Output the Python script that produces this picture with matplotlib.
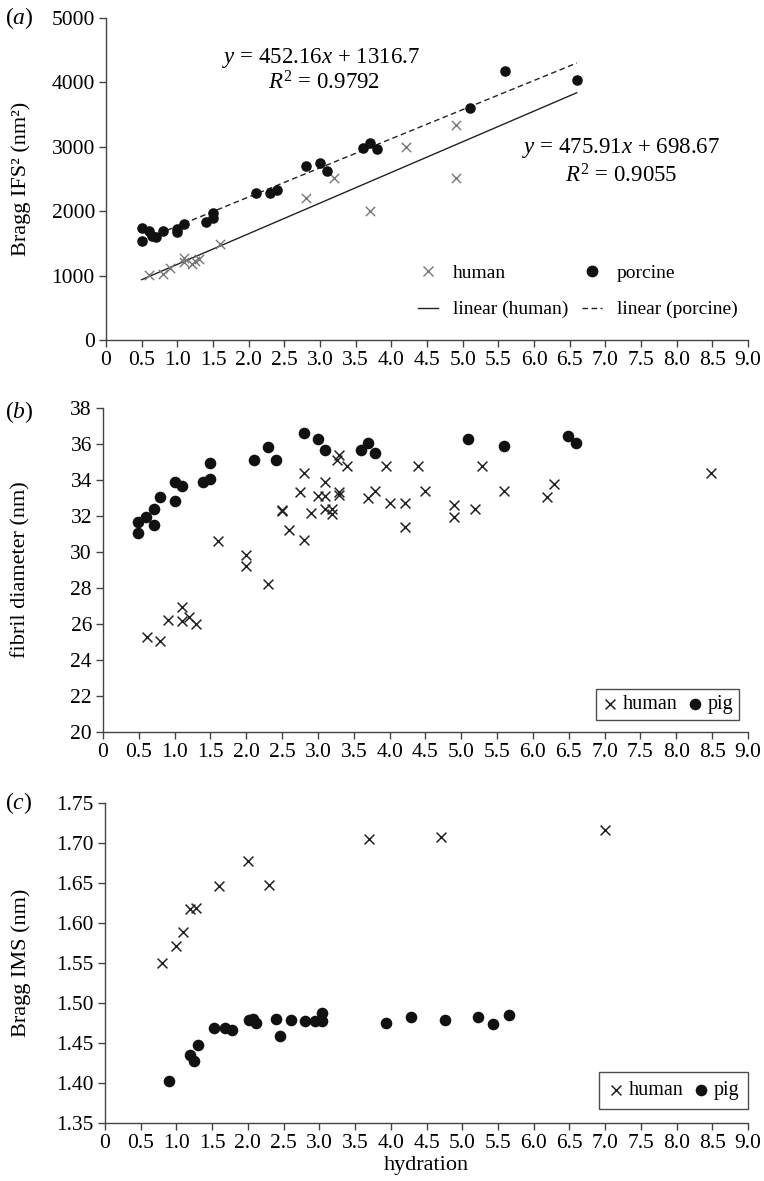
import matplotlib
matplotlib.use('Agg')
import matplotlib.pyplot as plt
from matplotlib.lines import Line2D
import numpy as np

plt.rcParams['font.family'] = ['Liberation Serif', 'DejaVu Serif']
plt.rcParams['mathtext.fontset'] = 'custom'
plt.rcParams['mathtext.rm'] = 'Liberation Serif'
plt.rcParams['mathtext.it'] = 'Liberation Serif:italic'

# (a) Bragg IFS^2 vs hydration
a_human_x = [0.6, 0.8, 0.9, 1.1, 1.1, 1.2, 1.25, 1.3, 1.6, 2.8, 3.2, 3.7, 4.2, 4.9, 4.9]
a_human_y = [1010, 1020, 1115, 1270, 1210, 1180, 1220, 1260, 1486, 2200, 2517, 2006, 2997, 3333, 2517]
a_pig_x = [0.5, 0.5, 0.6, 0.65, 0.7, 0.8, 1.0, 1.0, 1.1, 1.4, 1.5, 1.5, 2.1, 2.3, 2.4,
           2.8, 3.0, 3.1, 3.6, 3.7, 3.8, 5.1, 5.6, 6.6]
a_pig_y = [1734, 1537, 1700, 1620, 1600, 1697, 1720, 1680, 1800, 1826, 1888, 1966, 2275, 2275, 2327,
           2698, 2755, 2625, 2981, 3065, 2972, 3601, 4173, 4045]
fit_human = (475.91, 698.67)
fit_pig = (452.16, 1316.7)

# (b) fibril diameter vs hydration
b_human_x = [0.61, 0.8, 0.9, 1.1, 1.1, 1.2, 1.3, 1.6, 2.0, 2.0, 2.3, 2.5, 2.5, 2.6, 2.75, 2.8, 2.8,
             2.9, 3.0, 3.1, 3.1, 3.1, 3.2, 3.2, 3.3, 3.3, 3.26, 3.3, 3.4, 3.7, 3.8, 3.95, 4.0,
             4.22, 4.21, 4.4, 4.5, 4.9, 4.9, 5.19, 5.29, 5.59, 6.19, 6.3, 8.49]
b_human_y = [25.3, 25.07, 26.2, 26.92, 26.18, 26.37, 26.0, 30.61, 29.83, 29.22, 28.22, 32.3, 32.35, 31.22,
             33.35, 34.4, 30.67, 32.15, 33.11, 33.11, 33.9, 32.37, 32.37, 32.09, 33.35, 33.17, 35.1,
             35.39, 34.78, 33.0, 33.39, 34.78, 32.74, 32.74, 31.41, 34.78, 33.39, 32.6, 31.93, 32.4,
             34.8, 33.39, 33.07, 33.78, 34.4]
b_pig_x = [0.49, 0.49, 0.6, 0.71, 0.71, 0.8, 1.0, 1.0, 1.1, 1.4, 1.5, 1.5, 2.1, 2.3, 2.41, 2.8, 3.0,
           3.1, 3.6, 3.7, 3.8, 5.1, 5.6, 6.49, 6.6]
b_pig_y = [31.65, 31.07, 31.96, 32.4, 31.5, 33.04, 33.87, 32.85, 33.68, 33.87, 34.06, 34.92, 35.1, 35.85,
           35.1, 36.63, 36.26, 35.67, 35.67, 36.07, 35.48, 36.26, 35.89, 36.46, 36.07]

# (c) Bragg IMS vs hydration
c_human_x = [0.8, 1.0, 1.09, 1.19, 1.28, 1.6, 2.0, 2.29, 3.69, 4.7, 7.0]
c_human_y = [1.550, 1.571, 1.589, 1.617, 1.619, 1.646, 1.678, 1.647, 1.705, 1.708, 1.716]
c_pig_x = [0.89, 1.19, 1.25, 1.30, 1.53, 1.68, 1.78, 2.02, 2.07, 2.11, 2.39, 2.45, 2.60, 2.80, 2.94,
           3.04, 3.04, 3.93, 4.28, 4.76, 5.22, 5.43, 5.66]
c_pig_y = [1.403, 1.4345, 1.428, 1.4475, 1.4685, 1.469, 1.466, 1.479, 1.480, 1.475, 1.480, 1.459, 1.479,
           1.478, 1.478, 1.487, 1.478, 1.4756, 1.482, 1.479, 1.482, 1.474, 1.485]

x_ticks = np.arange(0, 9.01, 0.5)
x_labels = ['0'] + ['%.1f' % v for v in x_ticks[1:]]

W, H = 764, 1181
RIGHT = 748
fig = plt.figure(figsize=(W / 100, H / 100), dpi=100)


def make_axes(left, top, bottom, ylabel):
    ax = fig.add_axes([left / W, 1 - bottom / H, (RIGHT - left) / W, (bottom - top) / H])
    for s in ['top', 'right']:
        ax.spines[s].set_visible(False)
    for s in ['left', 'bottom']:
        ax.spines[s].set_color('#444444')
        ax.spines[s].set_linewidth(1.0)
    ax.tick_params(direction='out', length=5, width=1.0, color='#444444', labelsize=15.5, pad=3)
    ax.set_xlim(0, 9)
    ax.set_xticks(x_ticks)
    ax.set_xticklabels(x_labels)
    # y label centred about 21 px from the left edge of the figure
    ax.set_ylabel(ylabel, fontsize=16, va='center')
    ax.yaxis.set_label_coords((21 - left) / (RIGHT - left), 0.5)
    return ax


def box_legend(ax, anchor, pad):
    leg = ax.legend(loc='lower right', bbox_to_anchor=anchor, borderaxespad=0, fontsize=14.5,
                    frameon=True, fancybox=False, edgecolor='#222222', handletextpad=0.2,
                    columnspacing=0.5, ncol=2, borderpad=pad, handlelength=0.8, scatterpoints=1)
    leg.get_frame().set_linewidth(1.0)
    return leg


# ---- panel (a)
ax1 = make_axes(106, 18, 340, 'Bragg IFS² (nm²)')
ax1.set_ylim(0, 5000)
ax1.set_yticks(range(0, 5001, 1000))
ax1.scatter(a_human_x, a_human_y, marker='x', s=45, color='#777777', linewidths=1.0, zorder=3)
ax1.scatter(a_pig_x, a_pig_y, marker='o', s=58, color='#111111', linewidths=0, zorder=3)
fx = np.array([0.5, 6.6])
ax1.plot(fx, fit_human[0] * fx + fit_human[1], color='#222222', lw=1.0)
ax1.plot(fx, fit_pig[0] * fx + fit_pig[1], color='#222222', lw=1.0, ls=(0, (4, 2.5)))
ax1.text(3.02, 4385, r'$y$ = 452.16$x$ + 1316.7', ha='center', va='center', fontsize=16.5)
ax1.text(3.05, 4000, r'$R^{\mathrm{2}}$ = 0.9792', ha='center', va='center', fontsize=16.5)
ax1.text(7.22, 2974, r'$y$ = 475.91$x$ + 698.67', ha='center', va='center', fontsize=16.5)
ax1.text(7.22, 2549, r'$R^{\mathrm{2}}$ = 0.9055', ha='center', va='center', fontsize=16.5)
handles = [
    Line2D([], [], marker='x', color='#777777', ls='none', markersize=7),
    Line2D([], [], color='#222222', lw=1.0),
    Line2D([], [], marker='o', color='#111111', ls='none', markersize=7.5),
    Line2D([], [], color='#222222', lw=1.0, ls=(0, (4, 2.5))),
]
labels = ['human', 'linear (human)', 'porcine', 'linear (porcine)']
ax1.legend(handles, labels, ncol=2, frameon=False, fontsize=14, loc='center left',
           bbox_to_anchor=((410 - 106) / (RIGHT - 106), (340 - 291.5) / 322), borderaxespad=0,
           handlelength=1.05, handletextpad=0.75, columnspacing=0.7, labelspacing=0.95)
fig.text(5 / W, 1 - 18 / H, r'($a$)', fontsize=17, va='center', ha='left')

# ---- panel (b)
ax2 = make_axes(103, 408, 732, 'fibril diameter (nm)')
ax2.set_ylim(20, 38)
ax2.set_yticks(range(20, 39, 2))
ax2.scatter(b_human_x, b_human_y, marker='x', s=50, color='#222222', linewidths=1.1, zorder=3,
            label='human')
ax2.scatter(b_pig_x, b_pig_y, marker='o', s=70, color='#111111', linewidths=0, zorder=3, label='pig')
box_legend(ax2, ((739 - 103) / (RIGHT - 103), (732 - 720) / 324), 0.3)
fig.text(5 / W, 1 - 412 / H, r'($b$)', fontsize=17, va='center', ha='left')

# ---- panel (c)
ax3 = make_axes(105, 803, 1123, 'Bragg IMS (nm)')
ax3.set_ylim(1.35, 1.75)
ax3.set_yticks(np.arange(1.35, 1.751, 0.05))
ax3.set_yticklabels(['%.2f' % v for v in np.arange(1.35, 1.751, 0.05)])
ax3.scatter(c_human_x, c_human_y, marker='x', s=50, color='#222222', linewidths=1.1, zorder=3,
            label='human')
ax3.scatter(c_pig_x, c_pig_y, marker='o', s=70, color='#111111', linewidths=0, zorder=3, label='pig')
ax3.set_xlabel('hydration', fontsize=16, labelpad=2)
box_legend(ax3, (1.0, (1123 - 1109) / 320), 0.45)
fig.text(5 / W, 1 - 803 / H, r'($c$)', fontsize=17, va='center', ha='left')

fig.savefig('out.png', dpi=100)
